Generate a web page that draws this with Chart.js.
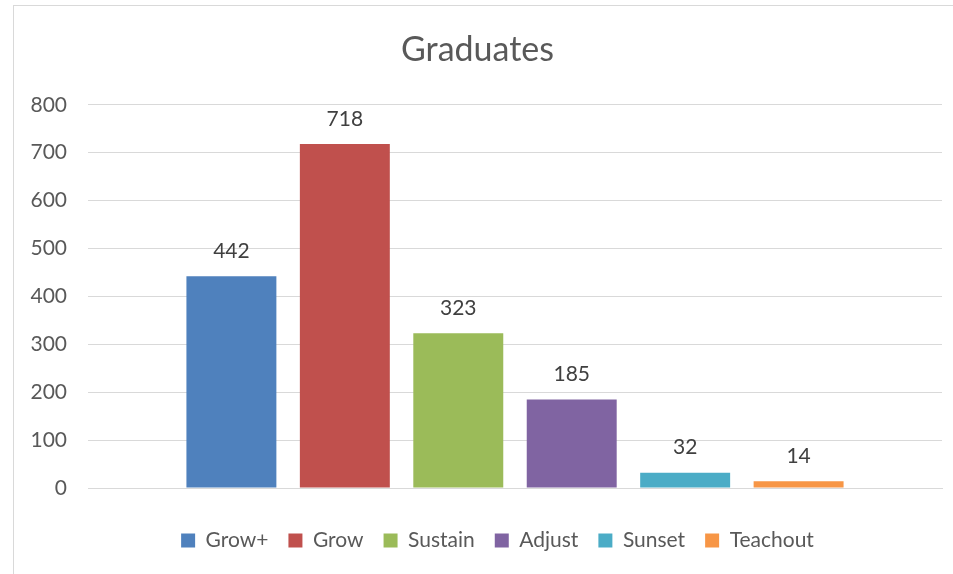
<!DOCTYPE html>
<html>
<head>
<meta charset="utf-8">
<script src="https://cdn.jsdelivr.net/npm/chart.js@4/dist/chart.umd.min.js"></script>
<style>
  html, body { margin: 0; padding: 0; background: #fff; overflow: hidden; }
  #wrap { position: relative; width: 953px; height: 574px; }
  #frame { position: absolute; left: 13px; top: 5px; width: 1000px; height: 1000px; border: 1px solid #d9d9d9; box-sizing: border-box; }
  #chart { position: absolute; left: 0; top: 0; }
</style>
</head>
<body>
<div id="wrap">
  <div id="frame"></div>
  <canvas id="chart" width="953" height="574"></canvas>
</div>
<script>
// Graduates by category, one series per category (Excel style)
const categories = [""];
const seriesNames = ["Grow+", "Grow", "Sustain", "Adjust", "Sunset", "Teachout"];
const seriesValues = [442, 718, 323, 185, 32, 14];
const seriesColors = ["#4f81bd", "#c0504d", "#9bbb59", "#8064a2", "#4bacc6", "#f79646"];
const yMax = 800;
const yStep = 100;

const FONT = "Lato, 'Liberation Sans', sans-serif";

// draw the value above each bar
const valueLabels = {
    id: "valueLabels",
    afterDatasetsDraw(chart) {
        const ctx = chart.ctx;
        ctx.save();
        ctx.font = "21px " + FONT;
        ctx.fillStyle = "#404040";
        ctx.textAlign = "center";
        ctx.textBaseline = "middle";
        chart.data.datasets.forEach((ds, i) => {
            const meta = chart.getDatasetMeta(i);
            meta.data.forEach((bar, j) => {
                ctx.fillText(String(ds.data[j]), bar.x, bar.y - 25);
            });
        });
        ctx.restore();
    },
};

// the legend sits a little right of the canvas centre in the original
const legendShift = {
    id: "legendShift",
    afterLayout(chart) {
        if (chart.legend) {
            chart.legend.left += 20;
            chart.legend.right += 20;
        }
    },
};

const datasets = seriesNames.map((name, i) => ({
    label: name,
    data: [seriesValues[i]],
    backgroundColor: seriesColors[i],
    borderWidth: 0,
    categoryPercentage: 0.797,
    barPercentage: 0.793,
}));

new Chart(document.getElementById("chart"), {
    type: "bar",
    data: { labels: categories, datasets },
    options: {
        responsive: false,
        animation: false,
        layout: { padding: { left: 13, right: 11, top: 0, bottom: 13 } },
        plugins: {
            title: {
                display: true,
                text: "Graduates",
                color: "#595959",
                font: { family: FONT, size: 34, weight: "normal" },
                padding: { top: 30, bottom: 34 },
            },
            legend: {
                position: "bottom",
                labels: {
                    color: "#595959",
                    font: { family: FONT, size: 21 },
                    boxWidth: 14,
                    boxHeight: 14,
                    padding: 20,
                },
            },
            tooltip: { enabled: false },
        },
        scales: {
            x: {
                ticks: { display: false },
                grid: { display: false },
                border: { display: true, color: "#d9d9d9", width: 1 },
                afterFit(scale) { scale.height = 22; },
            },
            y: {
                min: 0,
                max: yMax,
                ticks: {
                    stepSize: yStep,
                    color: "#595959",
                    font: { family: FONT, size: 21 },
                    padding: 21,
                },
                grid: { color: "#d9d9d9", drawTicks: false },
                border: { display: false },
                afterFit(scale) { scale.width = 75; },
            },
        },
    },
    plugins: [valueLabels, legendShift],
});
</script>
</body>
</html>
